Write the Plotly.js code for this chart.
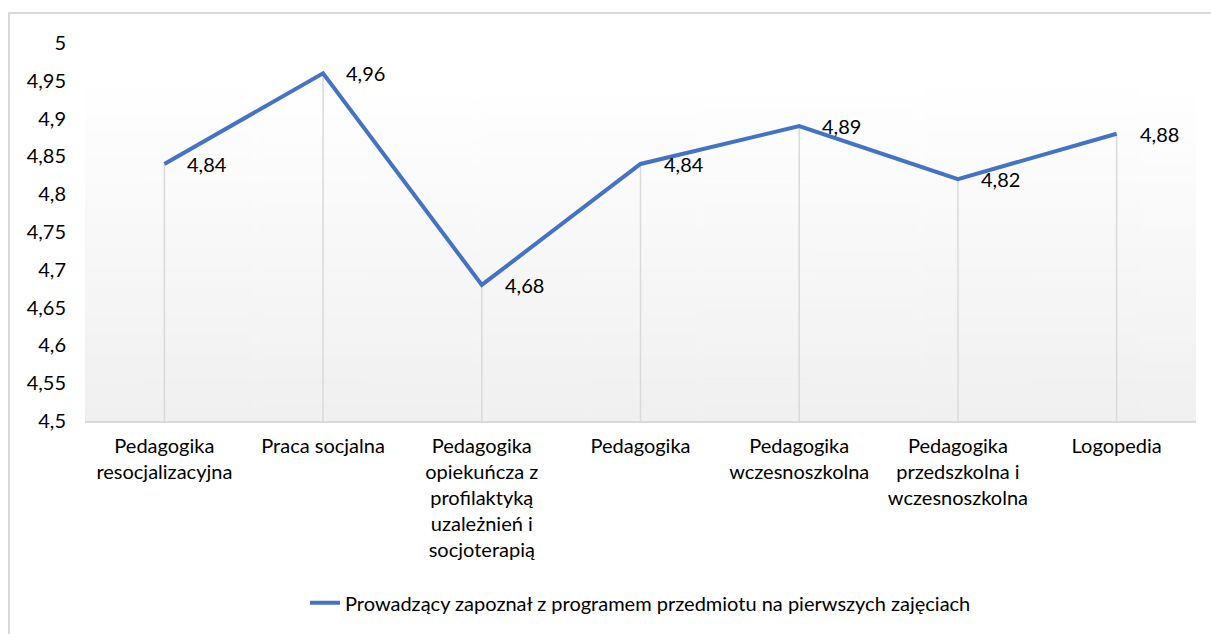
<!DOCTYPE html>
<html>
<head>
<meta charset="utf-8">
<script src="https://cdn.plot.ly/plotly-3.0.1.min.js"></script>
<style>
html,body{margin:0;padding:0;background:#fff;}
#wrap{position:relative;width:1211px;height:634px;overflow:hidden;}
#frame{position:absolute;left:8px;top:12px;width:1220px;height:640px;border:2px solid #d9d9d9;box-sizing:border-box;pointer-events:none;}
#chart{position:absolute;left:0;top:0;width:1211px;height:634px;}
</style>
</head>
<body>
<div id="wrap"><div id="frame"></div><div id="chart"></div></div>
<script>
const categories = [
  "Pedagogika<br>resocjalizacyjna",
  "Praca socjalna",
  "Pedagogika<br>opiekuńcza z<br>profilaktyką<br>uzależnień i<br>socjoterapią",
  "Pedagogika",
  "Pedagogika<br>wczesnoszkolna",
  "Pedagogika<br>przedszkolna i<br>wczesnoszkolna",
  "Logopedia"
];
const values = [4.84, 4.96, 4.68, 4.84, 4.89, 4.82, 4.88];
const valueLabels = ["4,84", "4,96", "4,68", "4,84", "4,89", "4,82", "4,88"];
const seriesName = "Prowadzący zapoznał z programem przedmiotu na pierwszych zajęciach";
const yTicks = [4.5, 4.55, 4.6, 4.65, 4.7, 4.75, 4.8, 4.85, 4.9, 4.95, 5];
const yTickLabels = ["4,5", "4,55", "4,6", "4,65", "4,7", "4,75", "4,8", "4,85", "4,9", "4,95", "5"];
const yMin = 4.5, yMax = 5;

// gradient background image
const cv = document.createElement('canvas');
cv.width = 10; cv.height = 200;
const ctx = cv.getContext('2d');
const g = ctx.createLinearGradient(0, 0, 0, 200);
g.addColorStop(0, '#ffffff');
g.addColorStop(1, '#f0f0f0');
ctx.fillStyle = g; ctx.fillRect(0, 0, 10, 200);
const bg = cv.toDataURL();

const font = "Lato, 'Open Sans', sans-serif";
const fs = 20;

const dropTrace = {
  x: categories, y: values, type: 'scatter', mode: 'markers',
  marker: {size: 0.1, color: 'rgba(0,0,0,0)'},
  error_y: {type: 'data', symmetric: false, array: values.map(() => 0),
            arrayminus: values.map(v => v - yMin), width: 0, thickness: 1.5, color: '#d9d9d9'},
  showlegend: false, hoverinfo: 'skip', cliponaxis: false
};
const lineTrace = {
  x: categories, y: values, type: 'scatter', mode: 'lines',
  name: seriesName,
  line: {color: '#4472C4', width: 4},
  cliponaxis: false
};

const annotations = categories.map((c, i) => ({
  x: c, y: values[i], xref: 'x', yref: 'y', text: valueLabels[i],
  showarrow: false, xanchor: 'left', yanchor: 'middle', xshift: 21, yshift: 0,
  font: {family: font, size: fs, color: '#000'}
}));

const layout = {
  width: 1211, height: 634,
  margin: {l: 85, r: 15, t: 43, b: 210},
  paper_bgcolor: 'rgba(0,0,0,0)',
  plot_bgcolor: 'rgba(0,0,0,0)',
  font: {family: font, size: fs, color: '#000'},
  separators: ',.',
  xaxis: {
    range: [-0.5, categories.length - 0.5],
    showgrid: false, zeroline: false, showline: true, linecolor: '#d9d9d9', linewidth: 1.5,
    ticks: '', ticklabelstandoff: 6, tickfont: {family: font, size: fs, color: '#000'}, fixedrange: true
  },
  yaxis: {
    range: [yMin, yMax], tickvals: yTicks, ticktext: yTickLabels,
    showgrid: false, zeroline: false, showline: false, ticks: '',
    ticklabelstandoff: 18, tickfont: {family: font, size: fs, color: '#000'}, fixedrange: true
  },
  annotations: annotations,
  images: [{source: bg, xref: 'paper', yref: 'paper', x: 0, y: 0.882, sizex: 1, sizey: 0.882,
            sizing: 'stretch', layer: 'below', xanchor: 'left', yanchor: 'top'}],
  showlegend: true,
  legend: {orientation: 'h', x: 0.5, xanchor: 'center', y: -0.481, yanchor: 'middle',
           font: {family: font, size: fs, color: '#000'}, bgcolor: 'rgba(0,0,0,0)'}
};

Plotly.newPlot('chart', [dropTrace, lineTrace], layout, {displayModeBar: false, staticPlot: true});
</script>
</body>
</html>
